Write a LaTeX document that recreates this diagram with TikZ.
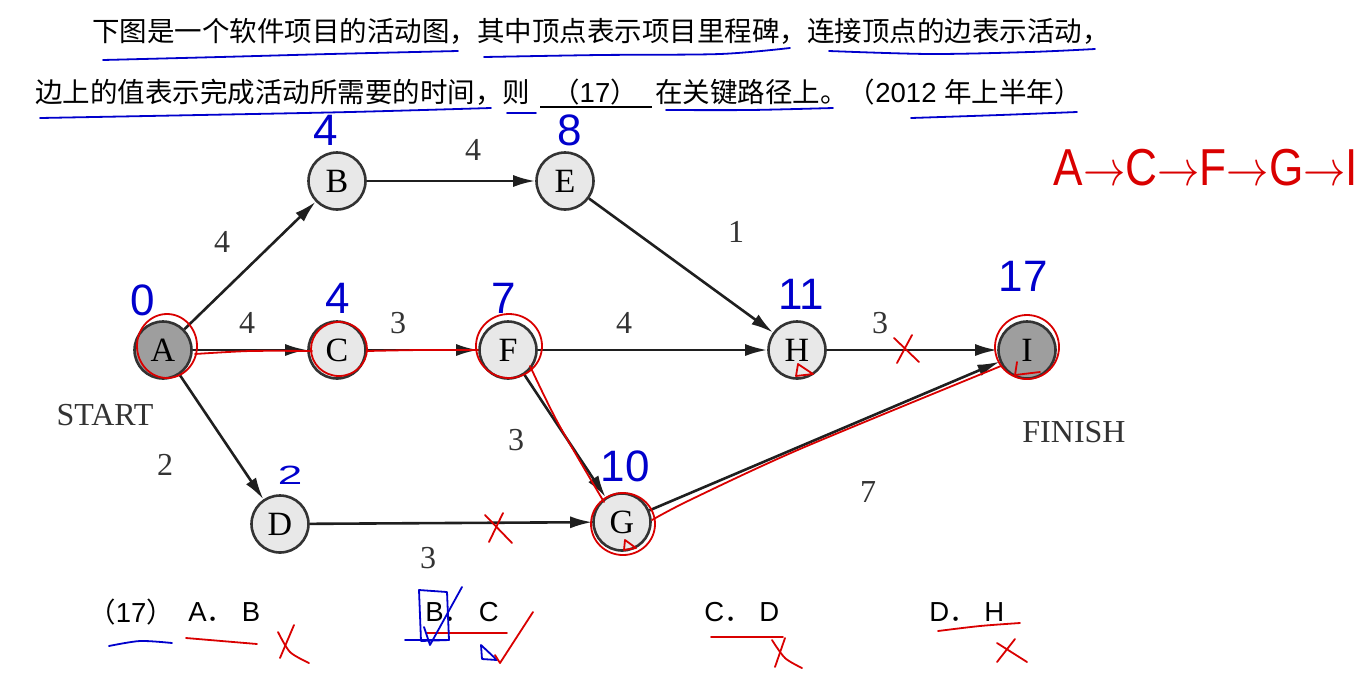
\documentclass[tikz,border=0pt]{standalone}
\usepackage{fontspec}
\setmainfont{Liberation Serif}
\newfontfamily\cjk{Noto Sans CJK SC}
\newfontfamily\lsans{Liberation Sans}
\usetikzlibrary{arrows.meta}
\begin{document}
\begin{tikzpicture}[x=0.5pt,y=-0.5pt,
  vtx/.style={circle, draw=black!80, line width=1.3pt, fill=black!9, minimum size=28.5pt, inner sep=0pt, font=\fontsize{17}{17}\selectfont},
  endv/.style={vtx, fill=black!38},
  edge/.style={draw=black!88, line width=1.3pt, -{Latex[length=11pt,width=6pt]}},
  elab/.style={font=\fontsize{16}{16}\selectfont, text=black!80, inner sep=0pt},
  cjktext/.style={font=\cjk\fontsize{13.75}{14}\selectfont, inner sep=0pt, anchor=west},
  opt/.style={font=\fontsize{13.75}{14}\selectfont, inner sep=0pt, anchor=west},
  redmark/.style={draw=red!85!black, line width=0.9pt, line cap=round, line join=round},
  bluemark/.style={draw=blue!80!black, line width=0.9pt, line cap=round, line join=round},
  bnum/.style={text=blue!80!black, font=\lsans\fontsize{22}{22}\selectfont, inner sep=0pt}
]
\useasboundingbox (0,0) rectangle (1370,692);

% question text
\node[cjktext] (l1) at (92,31) {下图是一个软件项目的活动图，其中顶点表示项目里程碑，连接顶点的边表示活动，};
\node[cjktext] (l2a) at (35,92) {边上的值表示完成活动所需要的时间，则};
\node[font=\fontsize{13.75}{14}\selectfont, inner sep=0pt] (l2b) at (595,92) {\cjk （\lsans 17\cjk ）};
\coordinate (ul1) at (540,107);
\coordinate (ul2) at (652,107);
\draw[line width=1pt] (ul1) -- (ul2);
\node[cjktext] (l2c) at (655,92) {在关键路径上。（\lsans 2012 \cjk 年上半年）};

% vertices
\node[endv] (A) at (163,350) {A};
\node[vtx] (B) at (337,181) {B};
\node[vtx] (E) at (565,181) {E};
\node[vtx] (C) at (337,350) {C};
\node[vtx] (F) at (508,350) {F};
\node[vtx] (H) at (797,350) {H};
\node[endv] (I) at (1027,350) {I};
\node[vtx] (D) at (280,524) {D};
\node[vtx] (G) at (622,522) {G};

% edges
\draw[edge] (A) -- (B);
\draw[edge] (B) -- (E);
\draw[edge] (E) -- (H);
\draw[edge] (A) -- (C);
\draw[edge] (C) -- (F);
\draw[edge] (F) -- (H);
\draw[edge] (H) -- (I);
\draw[edge] (F) -- (G);
\draw[edge] (A) -- (D);
\draw[edge] (D) -- (G);
\draw[edge] (G) -- (I);

% edge labels
\node[elab] (wAB) at (222,242) {4};
\node[elab] (wBE) at (473,150) {4};
\node[elab] (wEH) at (736,232) {1};
\node[elab] (wAC) at (247,323) {4};
\node[elab] (wCF) at (398,323) {3};
\node[elab] (wFH) at (624,323) {4};
\node[elab] (wHI) at (880,323) {3};
\node[elab] (wFG) at (516,440) {3};
\node[elab] (wAD) at (165,465) {2};
\node[elab] (wDG) at (428,558) {3};
\node[elab] (wGI) at (868,492) {7};
\node[elab] (start) at (105,415) {START};
\node[elab] (finish) at (1074,432) {FINISH};

% options
\node[opt] (o0) at (88,612) {\cjk （\lsans 17\cjk ）};
\node[opt] (o1) at (188,612) {\lsans A\cjk ．\lsans\ B};
\node[opt] (o2) at (425,612) {\lsans B\cjk ．\lsans\ C};
\node[opt] (o3) at (704,612) {\lsans C\cjk ．\lsans\ D};
\node[opt] (o4) at (929,612) {\lsans D\cjk ．\lsans\ H};

% ---- handwritten annotations ----
% blue underlines
\draw[bluemark] plot[smooth] coordinates {(103,60) (220,57) (330,54) (458,51)};
\draw[bluemark] plot[smooth] coordinates {(484,57) (600,55) (720,54) (790,48)};
\draw[bluemark] plot[smooth] coordinates {(829,51) (930,54) (1030,52) (1095,49)};
\draw[bluemark] plot[smooth] coordinates {(40,118) (200,115) (350,112) (491,108)};
\draw[bluemark] (507,113) -- (536,113);
\draw[bluemark] plot[smooth] coordinates {(666,110) (750,110) (833,108)};
\draw[bluemark] plot[smooth] coordinates {(911,118) (1000,115) (1077,112)};
\draw[bluemark] plot[smooth] coordinates {(109,646) (140,641) (172,643)};

% blue numbers
\node[bnum] (nB) at (326,130) {4};
\node[bnum] (nE) at (570,130) {8};
\node[bnum] (nA) at (143,300) {0};
\node[bnum] (nC) at (338,298) {4};
\node[bnum] (nF) at (504,298) {7};
\node[bnum] (nH) at (801,294) {11};
\node[bnum] (nI) at (1023,276) {17};
\node[bnum, yscale=0.6] (nD) at (290,475) {2};
\node[bnum] (nG) at (625,466) {10};

% red circles
\draw[redmark] (167,346) ellipse [x radius=15pt, y radius=16pt];
\draw[redmark] (339,349) ellipse [x radius=14pt, y radius=13.5pt];
\draw[redmark] (509,346) ellipse [x radius=16.5pt, y radius=16pt];
\draw[redmark] (623,524) ellipse [x radius=16pt, y radius=15.5pt];
\draw[redmark] (1027,347) ellipse [x radius=16pt, y radius=16pt];

% red critical path strokes
\draw[redmark] plot[smooth] coordinates {(195,354) (250,351) (312,351)};
\draw[redmark] plot[smooth] coordinates {(367,351) (420,350) (478,350)};
\draw[redmark] plot[smooth] coordinates {(530,366) (558,423) (604,502)};
\draw[redmark] plot[smooth] coordinates {(652,520) (690,500) (800,449) (1001,366)};

% red triangles
\draw[redmark] (798,364) -- (796,376) -- (813,374) -- cycle;
\draw[redmark] (625,540) -- (624,550) -- (636,548) -- cycle;
\draw[redmark] (1017,362) -- (1015,375) -- (1040,372);

% red X marks
\draw[redmark] (894,338) -- (919,362) (912,335) -- (897,363);
\draw[redmark] (485,515) -- (512,543) (503,513) -- (489,542);
\draw[redmark] plot[smooth] coordinates {(278,632) (290,652) (309,663)};
\draw[redmark] (294,625) -- (280,658);
\draw[redmark] plot[smooth] coordinates {(772,640) (785,658) (802,668)};
\draw[redmark] (785,638) -- (775,667);
\draw[redmark] (997,662) -- (1015,639) (997,643) -- (1027,662);

% red underlines of options
\draw[redmark] (186,638) -- (257,644);
\draw[redmark] (427,633) -- (507,633);
\draw[redmark] (711,637) -- (783,637);
\draw[redmark] plot[smooth] coordinates {(938,631) (980,626) (1020,623)};

% check marks near B. C
\draw[bluemark] (419,590) -- (447,592) -- (449,640) -- (421,641) -- cycle;
\draw[bluemark] (405,640) -- (447,640);
\draw[bluemark] (424,627) -- (430,645) -- (462,587);
\draw[bluemark] (481,645) -- (497,660) -- (482,659) -- cycle;
\draw[redmark] (495,655) -- (500,663) -- (533,612);

% red path note
\node[text=red!85!black, font=\lsans\fontsize{26}{26}\selectfont, xscale=0.85, inner sep=0pt] (path) at (1206,168) {A$\to$C$\to$F$\to$G$\to$I};
\end{tikzpicture}
\end{document}
